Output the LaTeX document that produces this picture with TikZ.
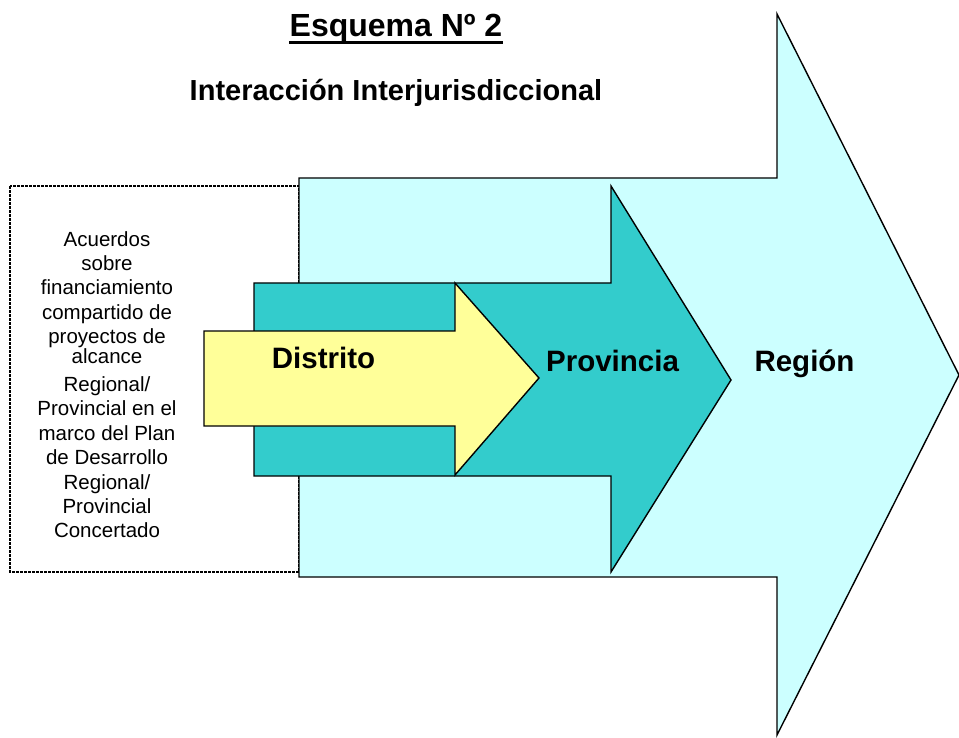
\documentclass[tikz,border=0pt]{standalone}
\usepackage{fontspec}
\setmainfont{Liberation Sans}
\definecolor{regionc}{HTML}{CCFFFF}
\definecolor{provc}{HTML}{33CCCC}
\definecolor{distc}{HTML}{FFFF99}
\begin{document}
\begin{tikzpicture}[x=1pt,y=-1pt,
  shapeline/.style={draw=black,line width=1.4pt,line join=miter},
  biglabel/.style={font=\fontsize{29.5}{32}\selectfont\bfseries,inner sep=0pt,anchor=base},
  sidetext/.style={font=\fontsize{20.5}{24.4}\selectfont,align=center,inner sep=0pt}]
\useasboundingbox (0,0) rectangle (959,738);
% dashed box
\draw[line width=2.4pt,dash pattern=on 3pt off 1pt] (10,186) rectangle (299,572);
% Region arrow
\filldraw[shapeline,fill=regionc] (299,178) -- (777,178) -- (777,14) -- (959,375) -- (777,735) -- (777,577) -- (299,577) -- cycle;
% Provincia arrow
\filldraw[shapeline,fill=provc] (254,283) -- (611,283) -- (611,186) -- (731,380) -- (611,572) -- (611,476) -- (254,476) -- cycle;
% Distrito arrow
\filldraw[shapeline,fill=distc] (204,331) -- (455,331) -- (455,283) -- (539,378) -- (455,475) -- (455,426) -- (204,426) -- cycle;
% titles
\node[font=\fontsize{32}{36}\selectfont\bfseries,inner sep=0pt,anchor=base] (title) at (396,37) {Esquema Nº 2};
\draw[line width=2.6pt] ([yshift=-5.5pt]title.base west) -- ([yshift=-5.5pt]title.base east);
\node[font=\fontsize{29}{32}\selectfont\bfseries,inner sep=0pt,anchor=base] (subtitle) at (396,101) {Interacción Interjurisdiccional};
% labels
\node[biglabel] (distrito) at (323.5,368) {Distrito};
\node[biglabel] (provincia) at (612.5,371) {Provincia};
\node[biglabel] (region) at (804.5,371) {Región};
% side text
\node[sidetext,anchor=north] (acuerdos) at (107,231) {Acuerdos\\sobre\\financiamiento\\compartido de\\proyectos de\\[-4.5pt]alcance\\[3.5pt]Regional/\\Provincial en el\\marco del Plan\\de Desarrollo\\Regional/\\Provincial\\Concertado};
\end{tikzpicture}
\end{document}
